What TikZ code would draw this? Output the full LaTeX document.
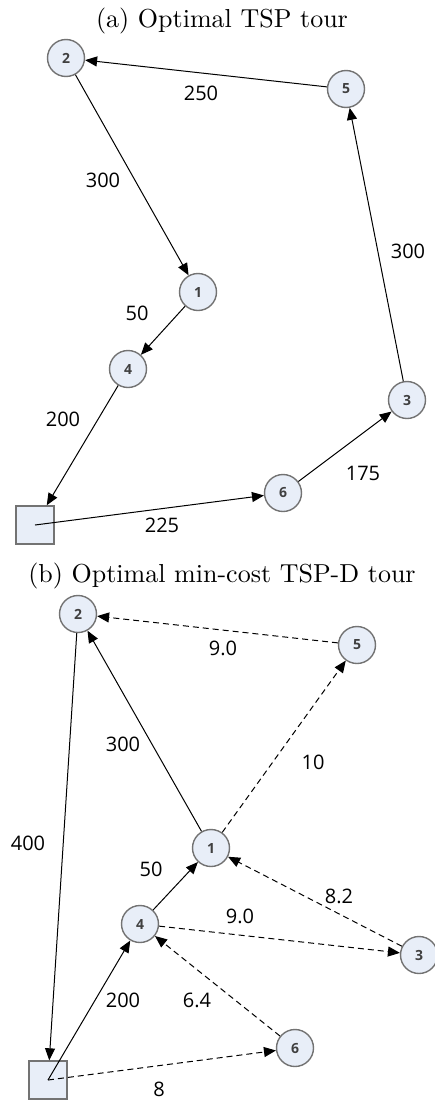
\documentclass[tikz,border=0pt]{standalone}
\usepackage{fontspec}
\newfontfamily\numfont{Open Sans}
\newfontfamily\capfont{lmroman10-regular}[Extension=.otf]
\usetikzlibrary{arrows.meta}
\definecolor{nodefill}{RGB}{232,238,248}
\definecolor{nodeline}{RGB}{115,115,115}
\definecolor{numgray}{RGB}{64,64,64}

\begin{document}
\begin{tikzpicture}[x=1pt, y=-1pt,
    cust/.style={circle, draw=nodeline, fill=nodefill, line width=1.4pt, minimum size=37pt, inner sep=0pt, text=numgray, font=\numfont\bfseries\fontsize{14}{14}\selectfont},
    depot/.style={rectangle, draw=nodeline, fill=nodefill, line width=1.4pt, minimum size=38pt, inner sep=0pt},
    truck/.style={line width=1pt, -{Triangle[length=12pt, width=10pt]}},
    drone/.style={truck, dash pattern=on 6pt off 4pt},
    cost/.style={inner sep=0pt, font=\numfont\fontsize{20}{20}\selectfont},
    caption/.style={anchor=base, font=\capfont\fontsize{26}{30}\selectfont}]
    \useasboundingbox (0,0) rectangle (435,1103);

    % (a) TSP tour
    \node[caption] (ta) at (222,27) {(a) Optimal TSP tour};
    \foreach \n/\x/\y in {1/198/292, 2/66/58, 3/407/400, 4/128/369, 5/346/89, 6/283/493} {
        \node[cust] (a\n) at (\x,\y) {\n};
    }
    \node[depot] (ad) at (35,525) {};
    \foreach \i/\j in {a5/a2, a2/a1, a1/a4, a4/ad, ad.center/a6, a6/a3, a3/a5} {
        \draw[truck] (\i) -- (\j);
    }
    \foreach \t/\x/\y [count=\k] in {250/201/93, 300/103/180, 300/408/251, 50/137/313, 200/63/419, 175/363/473, 225/162/525} {
        \node[cost] (ca\k) at (\x,\y) {\t};
    }

    % (b) TSP-D tour
    \node[caption] (tb) at (222,582) {(b) Optimal min-cost TSP-D tour};
    \foreach \n/\x/\y in {1/211/848, 2/78/614, 3/419/955, 4/140/924, 5/357/645, 6/295/1048} {
        \node[cust] (b\n) at (\x,\y) {\n};
    }
    \node[depot] (bd) at (48,1080) {};
    \foreach \i/\j in {b2/bd, bd.center/b4, b4/b1, b1/b2} {
        \draw[truck] (\i) -- (\j);
    }
    \foreach \i/\j in {bd.center/b6, b6/b4, b4/b3, b3/b1, b1/b5, b5/b2} {
        \draw[drone] (\i) -- (\j);
    }
    \foreach \t/\x/\y [count=\k] in {9.0/223/648, 300/123/744, 10/313/762, 400/28/843, 50/151/869, 8.2/339/896, 9.0/240/916, 200/123/1000, 6.4/197/1000, 8/159/1089} {
        \node[cost] (cb\k) at (\x,\y) {\t};
    }
\end{tikzpicture}
\end{document}
